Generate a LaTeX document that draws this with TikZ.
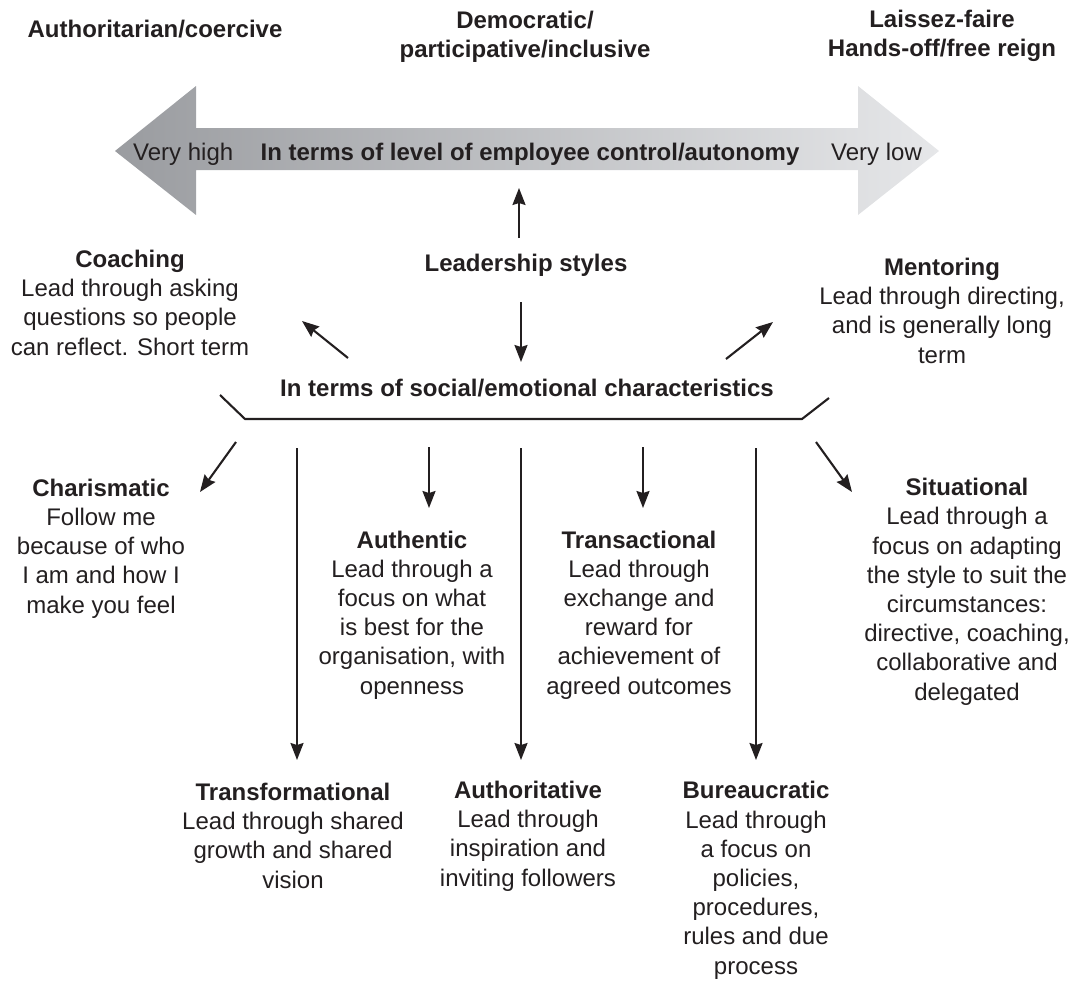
\documentclass[tikz,border=0pt]{standalone}
\usepackage{fontspec}
\setmainfont{Liberation Sans}
\usetikzlibrary{arrows.meta}
\definecolor{ink}{HTML}{231F20}
\definecolor{darkgrey}{HTML}{9A9CA0}
\definecolor{lightgrey}{HTML}{E6E7E9}
\begin{document}
\begin{tikzpicture}[x=1pt,y=-1pt,
  txt/.style={font=\fontsize{24}{29.2}\selectfont, text=ink, inner sep=0pt, align=center, anchor=base},
  ttl/.style={txt, font=\fontsize{24}{29.2}\selectfont\bfseries},
  conn/.style={draw=ink, line width=2.1pt, -{Stealth[length=17pt,width=13pt,inset=2pt]}},
  brk/.style={draw=ink, line width=2.1pt, line join=miter}
]
\useasboundingbox (0,0) rectangle (1079,982);
% big axis arrow
\shade[left color=darkgrey, right color=lightgrey]
  (115,151) -- (196,86) -- (196,128) -- (858,128) -- (858,86) -- (939,151)
  -- (858,215) -- (858,170) -- (196,170) -- (196,215) -- cycle;
% top headings (multi-line nodes are placed by the baseline of their last line)
\node[ttl] (auth) at (155,38) {Authoritarian/coercive};
\node[ttl] (demo) at (525,58) {Democratic/\\participative/inclusive};
\node[ttl] (laissez) at (942,57) {Laissez-faire\\Hands-off/free reign};
% axis texts
\node[txt, anchor=base west] (vhigh) at (133,160) {Very high};
\node[ttl] (axis) at (530,160) {In terms of level of employee control/autonomy};
\node[txt, anchor=base west] (vlow) at (831,160) {Very low};
% centre
\node[ttl] (lead) at (526,271) {Leadership styles};
\node[ttl] (social) at (527,396) {In terms of social/emotional characteristics};
% upper side styles
\node[txt] (coach) at (130,355) {\textbf{Coaching}\\Lead through asking\\questions so people\\can reflect. Short term};
\node[txt] (mentor) at (942,363) {\textbf{Mentoring}\\Lead through directing,\\and is generally long\\term};
% lower styles
\node[txt] (charis) at (101,613) {\textbf{Charismatic}\\Follow me\\because of who\\I am and how I\\make you feel};
\node[txt] (authen) at (412,694) {\textbf{Authentic}\\Lead through a\\focus on what\\is best for the\\organisation, with\\openness};
\node[txt] (transa) at (639,694) {\textbf{Transactional}\\Lead through\\exchange and\\reward for\\achievement of\\agreed outcomes};
\node[txt] (situ) at (967,700) {\textbf{Situational}\\Lead through a\\focus on adapting\\the style to suit the\\circumstances:\\directive, coaching,\\collaborative and\\delegated};
\node[txt] (transf) at (293,888) {\textbf{Transformational}\\Lead through shared\\growth and shared\\vision};
\node[txt] (authori) at (528,886) {\textbf{Authoritative}\\Lead through\\inspiration and\\inviting followers};
\node[txt] (bureau) at (756,974) {\textbf{Bureaucratic}\\Lead through\\a focus on\\policies,\\procedures,\\rules and due\\process};
% connector end points
\coordinate (upS) at (519,238);   \coordinate (upE) at (519,188);
\coordinate (dnS) at (521,302);   \coordinate (dnE) at (521,362);
\coordinate (coS) at (348,358);   \coordinate (coE) at (302,321);
\coordinate (meS) at (726,359);   \coordinate (meE) at (773,322);
\coordinate (chS) at (236,442);   \coordinate (chE) at (200,492);
\coordinate (siS) at (816,442);   \coordinate (siE) at (852,492);
\coordinate (tfS) at (297,448);   \coordinate (tfE) at (297,760);
\coordinate (aiS) at (521,448);   \coordinate (aiE) at (521,760);
\coordinate (buS) at (756,448);   \coordinate (buE) at (756,760);
\coordinate (auS) at (429,447);   \coordinate (auE) at (429,508);
\coordinate (trS) at (643,447);   \coordinate (trE) at (643,508);
\coordinate (bA) at (220,395); \coordinate (bB) at (245,419);
\coordinate (bC) at (802,419); \coordinate (bD) at (829,398);
% bracket
\draw[brk] (bA) -- (bB) -- (bC) -- (bD);
% connectors
\draw[conn] (upS) -- (upE);
\draw[conn] (dnS) -- (dnE);
\draw[conn] (coS) -- (coE);
\draw[conn] (meS) -- (meE);
\draw[conn] (chS) -- (chE);
\draw[conn] (siS) -- (siE);
\draw[conn] (tfS) -- (tfE);
\draw[conn] (aiS) -- (aiE);
\draw[conn] (buS) -- (buE);
\draw[conn] (auS) -- (auE);
\draw[conn] (trS) -- (trE);
\end{tikzpicture}
\end{document}
